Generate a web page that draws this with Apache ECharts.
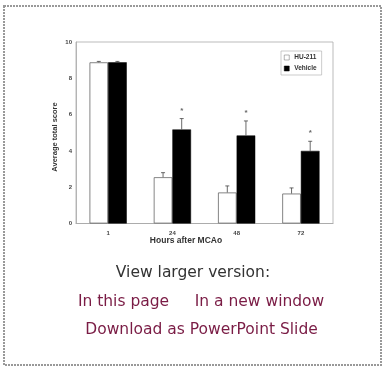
<!DOCTYPE html>
<html>
<head>
<meta charset="utf-8">
<script src="https://cdn.jsdelivr.net/npm/echarts@6/dist/echarts.min.js"></script>
<style>
html,body{margin:0;padding:0;background:#fff;}
#c{width:382px;height:367px;}
</style>
</head>
<body>
<div id="c"></div>
<script>
var categories = ['1', '24', '48', '72'];
var hu211 = [8.88, 2.55, 1.71, 1.65];
var hu211Err = [0.05, 0.25, 0.36, 0.31];
var vehicle = [8.88, 5.18, 4.85, 4.0];
var vehicleErr = [0.05, 0.6, 0.8, 0.53];
var significance = ['', '*', '*', '*'];
var yTicks = [0, 2, 4, 6, 8, 10];

var chart = echarts.init(document.getElementById('c'), null, {renderer: 'canvas'});

function errSeries(name, vals, errs, sign, stars) {
  return {
    type: 'custom',
    name: name + ' err',
    z: 5,
    data: categories.map(function (c, i) { return [i, vals[i], errs[i]]; }),
    renderItem: function (params, api) {
      var i = api.value(0), v = api.value(1), e = api.value(2);
      var bw = api.size([1, 0])[0];
      var x = api.coord([i, 0])[0] + sign * bw * 0.145;
      var y1 = api.coord([i, v])[1];
      var y2 = api.coord([i, v + e])[1];
      var ch = [
        {type: 'line', shape: {x1: x, y1: y1, x2: x, y2: y2}, style: {stroke: '#444', lineWidth: 0.8}},
        {type: 'line', shape: {x1: x - 2, y1: y2, x2: x + 2, y2: y2}, style: {stroke: '#444', lineWidth: 0.8}}
      ];
      var s = stars ? stars[params.dataIndex] : '';
      if (s) {
        ch.push({type: 'text', style: {text: s, x: x, y: y2 - 8, align: 'center', verticalAlign: 'middle',
          font: 'bold 8px Arial', fill: '#666'}});
      }
      return {type: 'group', children: ch};
    }
  };
}

chart.setOption({
  animation: false,
  grid: {left: 76, top: 42, width: 257, height: 181.5, show: true, borderColor: '#aaa', borderWidth: 0.8, backgroundColor: 'transparent'},
  legend: {
    data: ['HU-211', 'Vehicle'],
    orient: 'vertical', left: 281, top: 51, itemWidth: 5, itemHeight: 5, itemGap: 4,
    padding: [3, 5, 3, 3], borderColor: '#aaa', borderWidth: 0.6,
    textStyle: {fontSize: 6.5, fontWeight: 'bold', color: '#333', fontFamily: 'Arial'},
    itemStyle: {borderWidth: 0.5},
    icon: 'rect'
  },
  xAxis: {
    type: 'category', data: categories,
    axisLine: {lineStyle: {color: '#aaa', width: 0.8}},
    axisTick: {show: false},
    axisLabel: {fontSize: 6, fontWeight: 'bold', color: '#444', margin: 7, fontFamily: 'Arial'}
  },
  yAxis: {
    type: 'value', min: 0, max: 10, interval: 2,
    splitLine: {show: false},
    axisLine: {show: true, lineStyle: {color: '#aaa', width: 0.8}},
    axisTick: {show: false},
    axisLabel: {fontSize: 6, fontWeight: 'bold', color: '#444', margin: 4, fontFamily: 'Arial',
      formatter: function (v) { return yTicks.indexOf(v) >= 0 ? String(v) : ''; }}
  },
  series: [
    {name: 'HU-211', type: 'bar', data: hu211, barWidth: '29%', barGap: '0%',
      itemStyle: {color: '#fff', borderColor: '#666', borderWidth: 0.8}},
    {name: 'Vehicle', type: 'bar', data: vehicle, barWidth: '29%',
      itemStyle: {color: '#000', borderColor: '#000', borderWidth: 0.5}},
    errSeries('HU-211', hu211, hu211Err, -1, null),
    errSeries('Vehicle', vehicle, vehicleErr, 1, significance)
  ],
  graphic: [
    {type: 'rect', shape: {x: 4, y: 6, width: 377, height: 359}, silent: true,
      style: {fill: 'none', stroke: '#999', lineWidth: 2, lineDash: [2, 1]}},
    {type: 'text', x: 55, y: 137, rotation: Math.PI / 2, style: {text: 'Average total score', align: 'center', verticalAlign: 'middle',
      font: 'bold 7.5px Arial', fill: '#333'}},
    {type: 'text', x: 186, y: 241, style: {text: 'Hours after MCAo', align: 'center', verticalAlign: 'middle',
      font: 'bold 8.5px Arial', fill: '#333'}},
    {type: 'text', x: 193, y: 273, style: {text: 'View larger version:', align: 'center', verticalAlign: 'middle',
      font: '15.5px "DejaVu Sans"', fill: '#333'}},
    {type: 'text', x: 123.5, y: 302, style: {text: 'In this page', align: 'center', verticalAlign: 'middle',
      font: '15.5px "DejaVu Sans"', fill: '#7a1c45'}},
    {type: 'text', x: 259.5, y: 302, style: {text: 'In a new window', align: 'center', verticalAlign: 'middle',
      font: '15.5px "DejaVu Sans"', fill: '#7a1c45'}},
    {type: 'text', x: 201.5, y: 330, style: {text: 'Download as PowerPoint Slide', align: 'center', verticalAlign: 'middle',
      font: '15.5px "DejaVu Sans"', fill: '#7a1c45'}}
  ]
});
</script>
</body>
</html>
